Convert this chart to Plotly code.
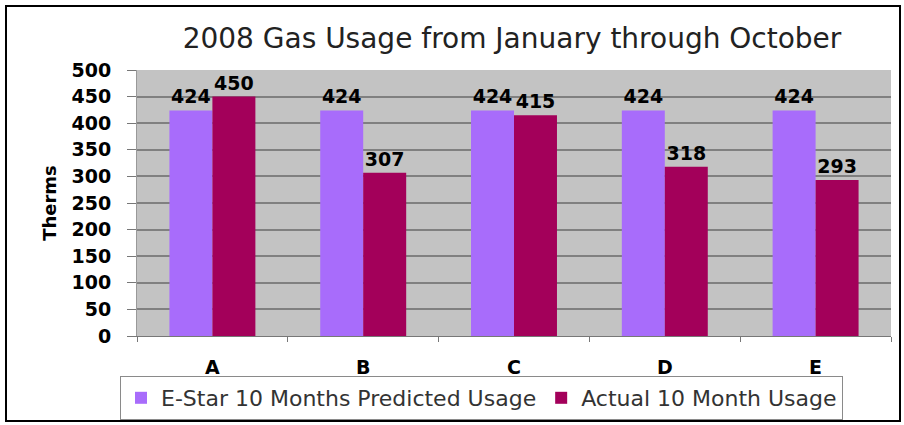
import plotly.graph_objects as go

categories = ["A", "B", "C", "D", "E"]
predicted = [424, 424, 424, 424, 424]
actual = [450, 307, 415, 318, 293]
series_names = ["E-Star 10 Months Predicted Usage", "Actual 10 Month Usage"]
y_ticks = [0, 50, 100, 150, 200, 250, 300, 350, 400, 450, 500]

W, H = 904, 425
L, R, T, B = 137, 13, 70, 89
PW, PH = W - L - R, H - T - B

def px(x):
    return (x - L) / PW

def py(y):
    return (H - B - y) / PH

num_font = dict(family="DejaVu Sans", size=19, color="black", weight="bold")

fig = go.Figure()
fig.add_trace(go.Bar(
    x=categories, y=predicted, name=series_names[0],
    marker=dict(color="#a86cfb", line=dict(width=0)),
    text=predicted, textposition="outside", textfont=num_font,
    cliponaxis=False, constraintext="none",
))
fig.add_trace(go.Bar(
    x=categories, y=actual, name=series_names[1],
    marker=dict(color="#a3005a", line=dict(width=0)),
    text=actual, textposition="outside", textfont=num_font,
    cliponaxis=False, constraintext="none",
))

fig.update_layout(
    width=W, height=H,
    margin=dict(l=L, r=R, t=T, b=B, pad=0, autoexpand=False),
    paper_bgcolor="white",
    plot_bgcolor="#c3c3c3",
    barmode="group", bargap=0.43, bargroupgap=0,
    title=dict(text="2008 Gas Usage from January through October",
               font=dict(family="DejaVu Sans", size=28, color="#222222"),
               x=px(512), xref="paper", xanchor="center",
               y=1 - 38 / H, yref="container", yanchor="middle"),
    legend=dict(orientation="h", x=120 / W, y=1 - 376 / H, xref="container", yref="container",
                xanchor="left", yanchor="top",
                bordercolor="#8a8a8a", borderwidth=1, bgcolor="white",
                font=dict(family="DejaVu Sans", size=22, color="#333333"),
                itemwidth=30, tracegroupgap=0),
    showlegend=True,
    xaxis=dict(tickfont=dict(family="DejaVu Sans", size=19, color="black", weight="bold"),
               tickson="boundaries", ticks="outside", ticklen=5, tickcolor="#777777",
               showline=True, linecolor="#777777", linewidth=1, showgrid=False,
               ticklabelstandoff=14),
    yaxis=dict(range=[0, 500], tickvals=y_ticks, tickfont=num_font,
               ticks="outside", ticklen=9, tickcolor="#777777",
               showline=True, linecolor="#999999", linewidth=1,
               showgrid=True, gridcolor="#808080", gridwidth=1.5,
               zeroline=False, ticklabelstandoff=12,
               title=dict(text="Therms", standoff=10,
                          font=dict(family="DejaVu Sans", size=18, color="black", weight="bold"))),
)

fig.add_shape(type="rect", xref="paper", yref="paper",
              x0=px(6), x1=px(900), y0=py(421), y1=py(6),
              line=dict(color="black", width=2), layer="below")

fig.write_html("out.html")
